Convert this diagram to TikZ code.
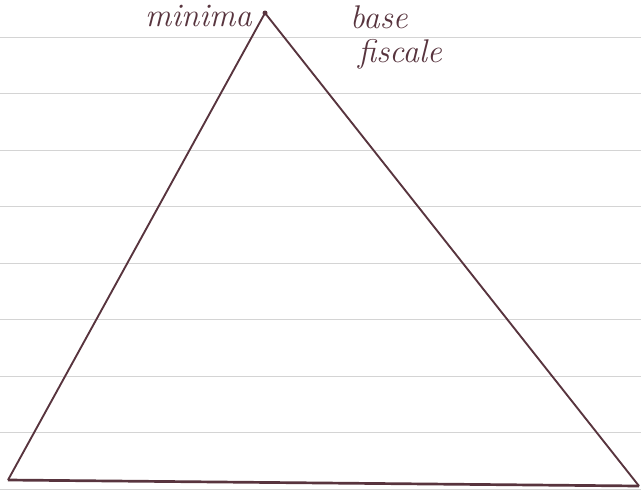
\documentclass[tikz,border=0pt]{standalone}
\usepackage{tikz}
\usetikzlibrary{positioning}

\definecolor{ink}{RGB}{88,52,62}
\definecolor{rule}{RGB}{212,212,212}

\begin{document}
\begin{tikzpicture}[
  x=0.03cm, y=-0.03cm,
  ruling/.style={draw=rule, line width=0.6pt},
  edge/.style={draw=ink, line width=1.6pt, line join=round},
  handtext/.style={text=ink, font=\fontsize{28}{28}\selectfont\itshape, inner sep=0pt},
]
\clip (0,0) rectangle (641,491);
\fill[white] (0,0) rectangle (641,491);
% ruled paper
\foreach \y in {37,93.5,150,206.5,263,319.5,376,432.5,489}
  \draw[ruling] (0,\y) -- (641,\y);
% corners
\coordinate (apex)  at (265,13);
\coordinate (left)  at (8,480);
\coordinate (right) at (639,486);
\draw[edge] (apex) -- (right);
\draw[edge] (apex) -- (left);
\draw[edge, line width=2.3pt] (left) -- (right);
\fill[ink] (apex) circle (2.5);
% notes
\node[handtext, anchor=north east] (minima) at (252,5) {minima};
\node[handtext, anchor=north west] (base) at (350,5) {base};
\node[handtext, anchor=base west] (fiscale) at (358,62) {fiscale};
\end{tikzpicture}
\end{document}
